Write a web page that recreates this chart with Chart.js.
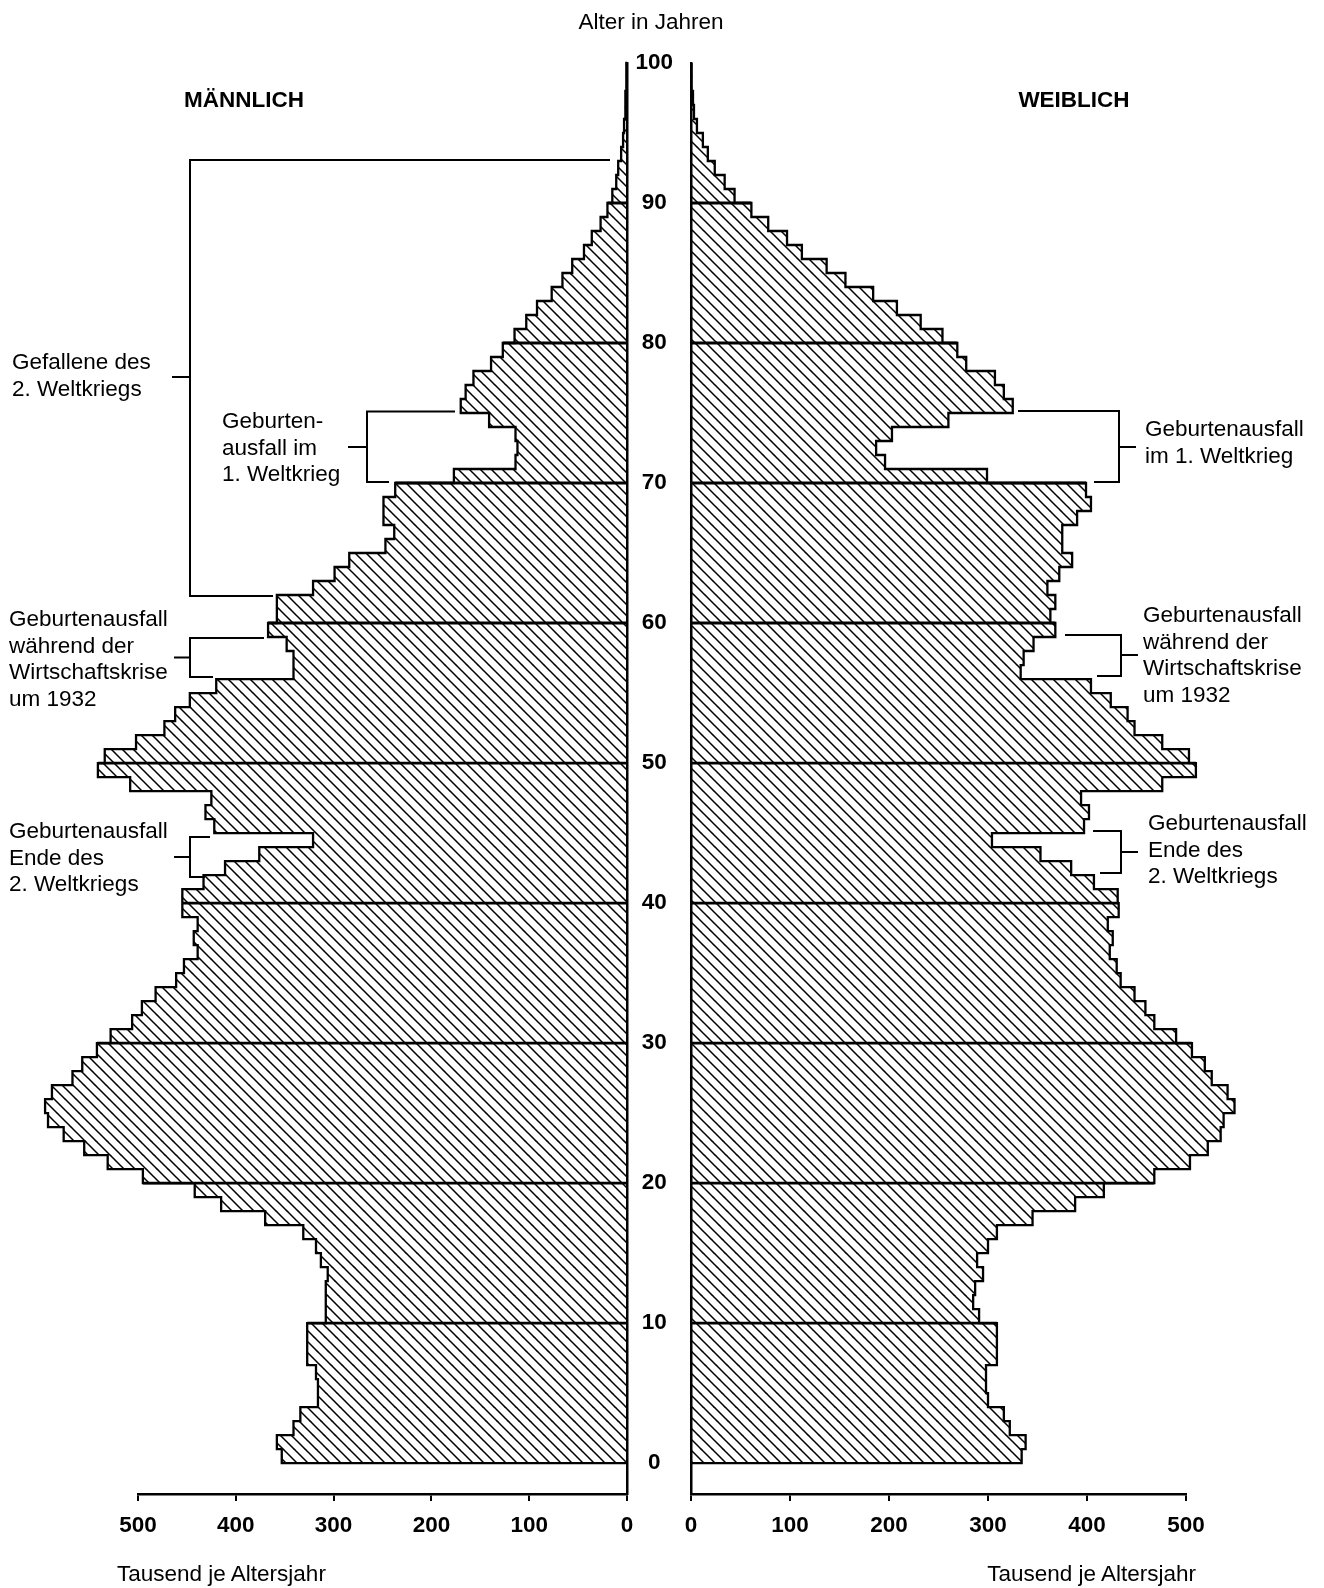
<!DOCTYPE html>
<html lang="de">
<head>
<meta charset="utf-8">
<title>Altersaufbau der Bevölkerung</title>
<script src="https://cdn.jsdelivr.net/npm/chart.js@4.4.1/dist/chart.umd.min.js"></script>
<style>
  html, body { margin: 0; padding: 0; background: #fff; }
  body {
    position: relative; width: 1324px; height: 1588px; overflow: hidden;
    font-family: "Liberation Sans", Arial, sans-serif; color: #000;
  }
  #maleWrap { position: absolute; left: 0; top: 0; width: 660px; height: 1588px; }
  #femaleWrap { position: absolute; left: 627px; top: 0; width: 697px; height: 1588px; }
  #brackets { position: absolute; left: 0; top: 0; }
  .t { position: absolute; font-size: 22.5px; line-height: 26.7px; white-space: nowrap; }
  .c { transform: translate(-50%, -50%); line-height: 1; }
  .b { font-weight: bold; }
</style>
</head>
<body>
<div id="maleWrap"><canvas id="maleChart" width="660" height="1588"></canvas></div>
<div id="femaleWrap"><canvas id="femaleChart" width="697" height="1588"></canvas></div>

<svg id="brackets" width="1324" height="1588" fill="none" stroke="#000" stroke-width="2">
  <!-- Gefallene des 2. Weltkriegs -->
  <path d="M610 160 H190 V596 H273 M172 377 H190"/>
  <!-- Geburtenausfall im 1. Weltkrieg (m) -->
  <path d="M455 411.5 H367 V482 H389 M348 447 H367"/>
  <!-- Wirtschaftskrise (m) -->
  <path d="M264 638 H190 V677 H213 M174 657.5 H190"/>
  <!-- Ende des 2. Weltkriegs (m) -->
  <path d="M210 837 H190 V877 H205 M174 857 H190"/>
  <!-- Geburtenausfall im 1. Weltkrieg (w) -->
  <path d="M1018 411 H1119 V482 H1094 M1119 447 H1136"/>
  <!-- Wirtschaftskrise (w) -->
  <path d="M1065 635 H1121 V676 H1097 M1121 655 H1138"/>
  <!-- Ende des 2. Weltkriegs (w) -->
  <path d="M1093 831 H1121 V873 H1100 M1121 852 H1138"/>
</svg>

<div class="t c" style="left:651px; top:22px;">Alter in Jahren</div>
<div class="t c b" style="left:244px; top:100px;">MÄNNLICH</div>
<div class="t c b" style="left:1074px; top:100px;">WEIBLICH</div>

<div class="t" style="left:12px; top:349px;">Gefallene des<br>2. Weltkriegs</div>
<div class="t" style="left:222px; top:408px;">Geburten-<br>ausfall im<br>1. Weltkrieg</div>
<div class="t" style="left:9px; top:606px;">Geburtenausfall<br>während der<br>Wirtschaftskrise<br>um 1932</div>
<div class="t" style="left:9px; top:818px;">Geburtenausfall<br>Ende des<br>2. Weltkriegs</div>

<div class="t" style="left:1145px; top:416px;">Geburtenausfall<br>im 1. Weltkrieg</div>
<div class="t" style="left:1143px; top:602px;">Geburtenausfall<br>während der<br>Wirtschaftskrise<br>um 1932</div>
<div class="t" style="left:1148px; top:810px;">Geburtenausfall<br>Ende des<br>2. Weltkriegs</div>

<div class="t" style="left:117px; top:1561px;">Tausend je Altersjahr</div>
<div class="t" style="right:128px; top:1561px;">Tausend je Altersjahr</div>

<script>
// Tausend je Altersjahr, index = Alter 0..99
const MALE = [
  353, 358, 341, 334, 316, 316, 318, 327, 327, 327,
  308, 308, 308, 306, 313, 318, 331, 370, 415, 442,
  495, 531, 555, 576, 592, 595, 588, 567, 557, 542,
  528, 506, 496, 482, 461, 453, 439, 443, 439, 454,
  455, 433, 411, 376, 321, 422, 431, 425, 508, 541,
  534, 502, 473, 462, 447, 420, 341, 341, 348, 367,
  358, 358, 321, 299, 284, 247, 238, 249, 249, 237,
  177, 114, 112, 114, 141, 170, 165, 157, 139, 127,
  115, 103, 92, 77, 66, 56, 44, 36, 27, 20,
  15, 11, 9, 6, 4, 3, 2, 1.5, 1, 0.5
];
const FEMALE = [
  334, 338, 322, 316, 300, 298, 298, 309, 309, 309,
  291, 285, 287, 295, 289, 300, 309, 345, 388, 417,
  468, 504, 522, 535, 538, 549, 542, 526, 519, 506,
  490, 468, 459, 448, 434, 430, 423, 426, 421, 432,
  431, 407, 384, 353, 304, 397, 402, 394, 476, 510,
  503, 476, 448, 441, 424, 404, 333, 336, 346, 368,
  363, 368, 360, 372, 385, 375, 375, 390, 404, 399,
  299, 196, 187, 203, 260, 325, 316, 307, 278, 269,
  254, 232, 208, 184, 156, 137, 112, 97, 78, 61,
  44, 34, 24, 17, 12, 6, 3, 2, 1, 0.5
];
const AGE_TICKS = [0, 10, 20, 30, 40, 50, 60, 70, 80, 90, 100];
const VALUE_TICKS = [0, 100, 200, 300, 400, 500];

const AGE_MIN = -2.21;   // Abstand zwischen Alter 0 und der Achse
const AGE_MAX = 100;
const VALUE_MAX = 500;
const FONT = '"Liberation Sans", Arial, sans-serif';

Chart.defaults.font.family = FONT;
Chart.defaults.color = '#000';

function hatchPattern(ctx) {
  const tile = document.createElement('canvas');
  tile.width = tile.height = 11;
  const c = tile.getContext('2d');
  c.strokeStyle = '#000';
  c.lineWidth = 1.5;
  c.beginPath();
  c.moveTo(-1, -1); c.lineTo(12, 12);
  c.moveTo(10, -1); c.lineTo(12, 1);
  c.moveTo(-1, 10); c.lineTo(1, 12);
  c.stroke();
  return ctx.createPattern(tile, 'repeat');
}

// step outline round the bars
function outline(values) {
  const pts = [{ x: 0, y: 0 }];
  values.forEach((v, age) => {
    pts.push({ x: v, y: age }, { x: v, y: age + 1 });
  });
  pts.push({ x: 0, y: values.length });
  return pts;
}

// bold lines at every 10th year
function decadeLines(values) {
  const pts = [];
  for (let age = 10; age < values.length; age += 10) {
    pts.push({ x: 0, y: age }, { x: Math.max(values[age - 1], values[age]), y: age }, { x: null, y: null });
  }
  return pts;
}

function makeChart(canvasId, values, male) {
  const canvas = document.getElementById(canvasId);
  const ctx = canvas.getContext('2d');
  const lineStyle = { type: 'line', pointRadius: 0, tension: 0, fill: false, borderColor: '#000', clip: false, order: 1, spanGaps: false };

  return new Chart(ctx, {
    type: 'bar',
    data: {
      datasets: [
        {
          data: values.map((v, age) => ({ x: v, y: age + 0.5 })),
          backgroundColor: hatchPattern(ctx),
          borderWidth: 0,
          barPercentage: 1,
          categoryPercentage: 1,
          clip: false,
          order: 2
        },
        Object.assign({ data: outline(values), borderWidth: 2.3 }, lineStyle),
        Object.assign({ data: decadeLines(values), borderWidth: 2.8 }, lineStyle)
      ]
    },
    options: {
      indexAxis: 'y',
      responsive: false,
      animation: false,
      events: [],
      layout: { padding: male ? { left: 138, right: 33, top: 63, bottom: 0 } : { left: 0, right: 138, top: 63, bottom: 0 } },
      plugins: { legend: { display: false }, tooltip: { enabled: false } },
      scales: {
        x: {
          type: 'linear',
          min: 0,
          max: VALUE_MAX,
          offset: false,
          reverse: male,
          afterBuildTicks: axis => { axis.ticks = VALUE_TICKS.map(v => ({ value: v })); },
          afterFit: axis => { axis.height = 94; },
          grid: { drawOnChartArea: false, drawTicks: true, tickLength: 7, color: '#000', lineWidth: 2 },
          border: { display: true, color: '#000', width: 2.5 },
          ticks: { color: '#000', padding: 11, maxRotation: 0, autoSkip: false, font: { size: 22.5, weight: 'bold' } }
        },
        y: {
          type: 'linear',
          position: male ? 'right' : 'left',
          min: AGE_MIN,
          max: AGE_MAX,
          offset: false,
          grace: 0,
          afterBuildTicks: axis => { axis.ticks = AGE_TICKS.map(v => ({ value: v })); },
          afterFit: axis => { axis.width = male ? 0 : 64; },
          grid: { display: false, drawTicks: false, offset: false },
          border: { display: true, color: '#000', width: 2.5 },
          ticks: {
            display: !male,
            crossAlign: 'center',
            padding: 18,
            color: '#000',
            font: { size: 22.5, weight: 'bold' }
          }
        }
      }
    }
  });
}

makeChart('maleChart', MALE, true);
makeChart('femaleChart', FEMALE, false);
</script>
</body>
</html>
